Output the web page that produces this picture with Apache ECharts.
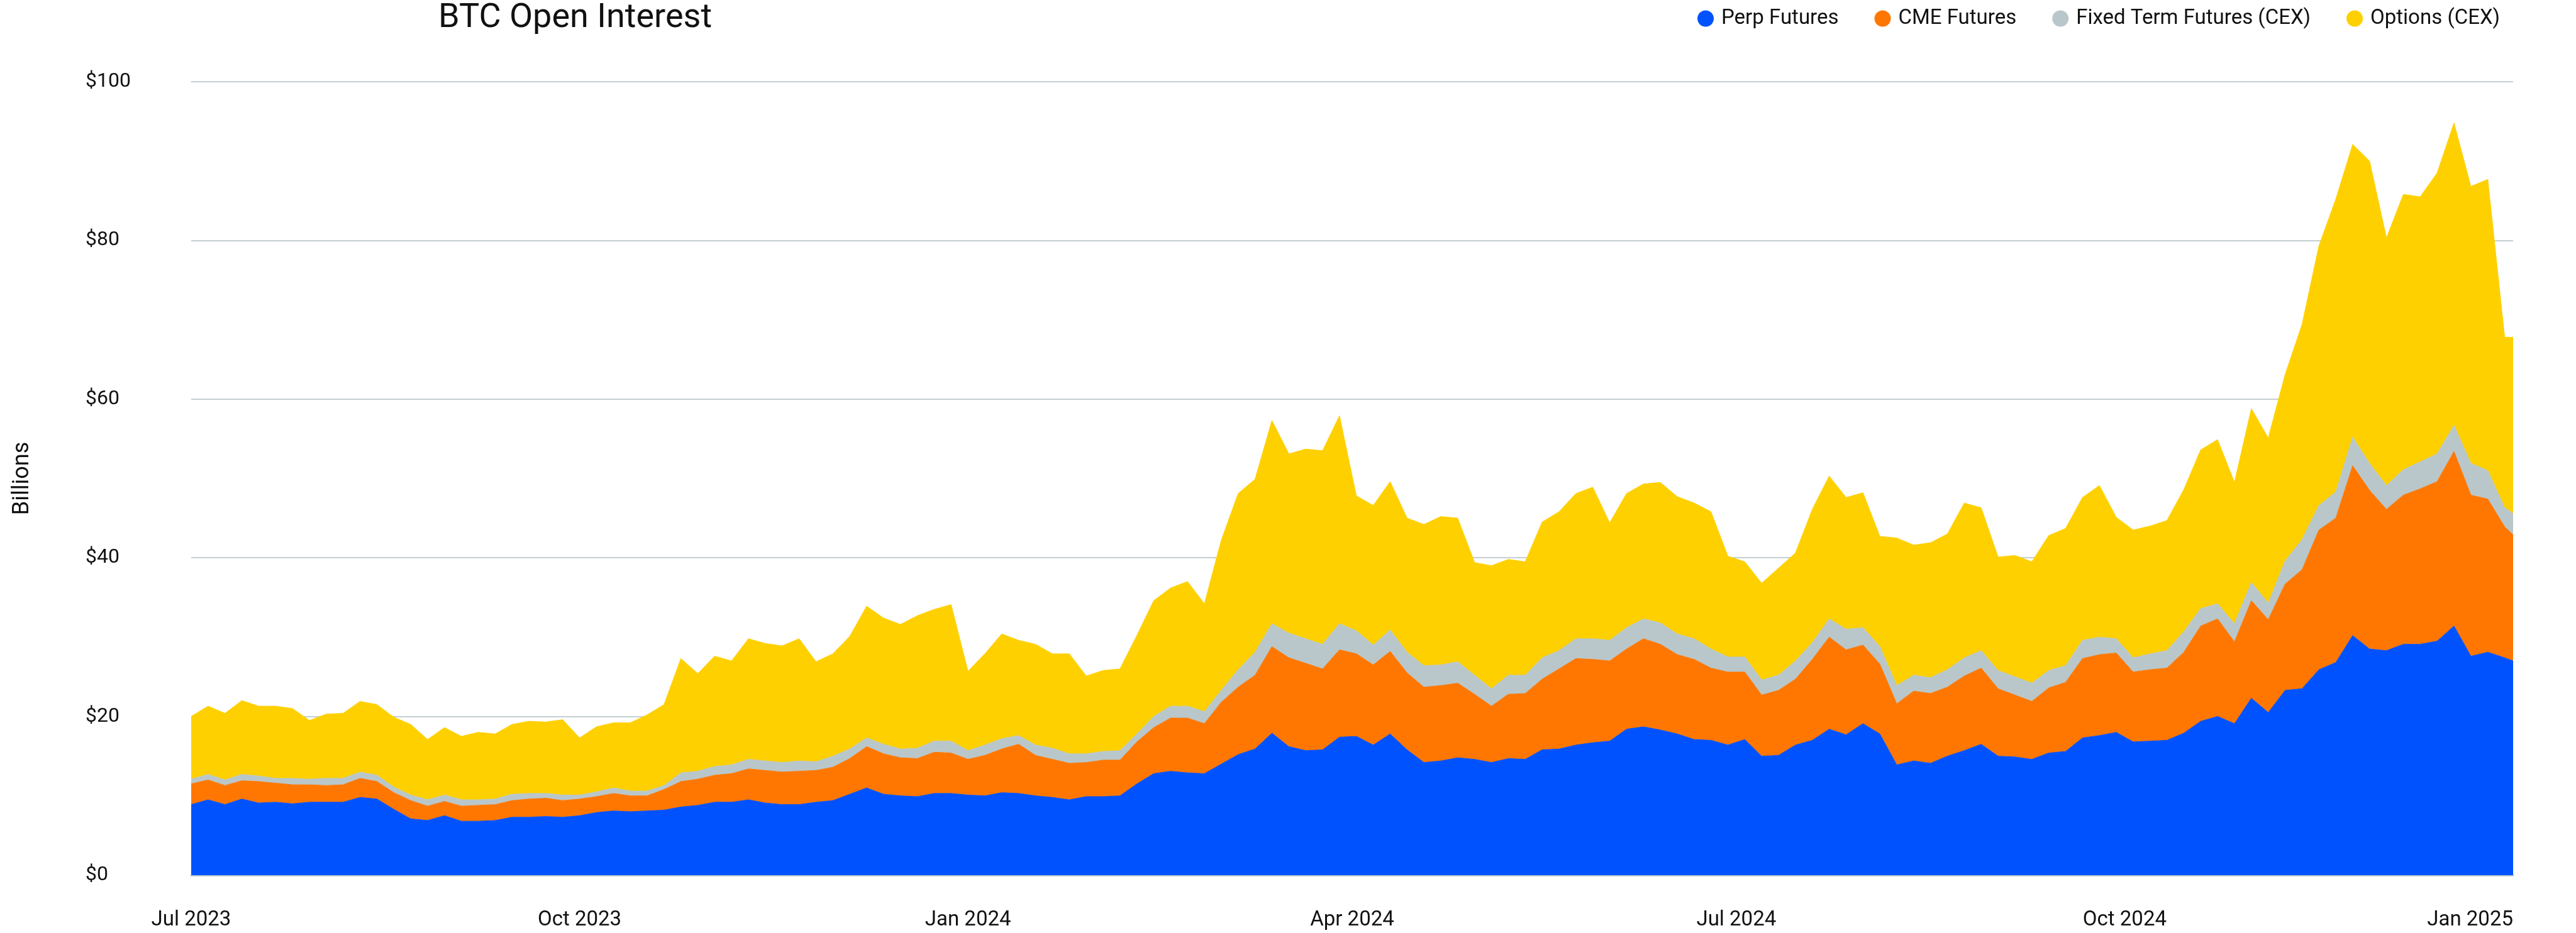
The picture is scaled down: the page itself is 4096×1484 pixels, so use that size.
<!DOCTYPE html>
<html>
<head>
<meta charset="utf-8">
<title>BTC Open Interest</title>
<script src="https://cdn.jsdelivr.net/npm/echarts@6.0.0/dist/echarts.min.js"></script>
<style>
  html, body { margin: 0; padding: 0; background: #ffffff; }
  #chart { width: 4096px; height: 1484px; }
</style>
</head>
<body>
<div id="chart"></div>
<script>
// sample dates (every 4 days, Jul 2023 - Jan 2025)
const dates = [
  '2023-07-01','2023-07-05','2023-07-09','2023-07-13','2023-07-17','2023-07-21','2023-07-25','2023-07-29',
  '2023-08-02','2023-08-06','2023-08-10','2023-08-14','2023-08-18','2023-08-22','2023-08-26','2023-08-30',
  '2023-09-03','2023-09-07','2023-09-11','2023-09-15','2023-09-19','2023-09-23','2023-09-27','2023-10-01',
  '2023-10-05','2023-10-09','2023-10-13','2023-10-17','2023-10-21','2023-10-25','2023-10-29',
  '2023-11-02','2023-11-06','2023-11-10','2023-11-14','2023-11-18','2023-11-22','2023-11-26','2023-11-30',
  '2023-12-04','2023-12-08','2023-12-12','2023-12-16','2023-12-20','2023-12-24','2023-12-28','2024-01-01',
  '2024-01-05','2024-01-09','2024-01-13','2024-01-17','2024-01-21','2024-01-25','2024-01-29',
  '2024-02-02','2024-02-06','2024-02-10','2024-02-14','2024-02-18','2024-02-22','2024-02-26',
  '2024-03-01','2024-03-05','2024-03-09','2024-03-13','2024-03-17','2024-03-21','2024-03-25','2024-03-29','2024-04-02',
  '2024-04-06','2024-04-10','2024-04-14','2024-04-18','2024-04-22','2024-04-26','2024-04-30',
  '2024-05-04','2024-05-08','2024-05-12','2024-05-16','2024-05-20','2024-05-24','2024-05-28',
  '2024-06-01','2024-06-05','2024-06-09','2024-06-13','2024-06-17','2024-06-21','2024-06-25','2024-06-29','2024-07-03',
  '2024-07-07','2024-07-11','2024-07-15','2024-07-19','2024-07-23','2024-07-27','2024-07-31',
  '2024-08-04','2024-08-08','2024-08-12','2024-08-16','2024-08-20','2024-08-24','2024-08-28',
  '2024-09-01','2024-09-05','2024-09-09','2024-09-13','2024-09-17','2024-09-21','2024-09-25','2024-09-29','2024-10-03',
  '2024-10-07','2024-10-11','2024-10-15','2024-10-19','2024-10-23','2024-10-27','2024-10-31',
  '2024-11-04','2024-11-08','2024-11-12','2024-11-16','2024-11-20','2024-11-24','2024-11-28',
  '2024-12-02','2024-12-06','2024-12-10','2024-12-14','2024-12-18','2024-12-22','2024-12-26','2024-12-30','2025-01-01'
];

// open interest, $ billions
const perpFutures = [
  8.9, 9.5, 8.9, 9.6, 9.1, 9.2, 9.0, 9.2, 9.2, 9.2, 9.8, 9.6, 8.3, 7.1, 6.9, 7.5, 6.8, 6.8, 6.9, 7.3, 7.3, 7.4, 7.3, 7.5,
  7.9, 8.1, 8.0, 8.1, 8.2, 8.6, 8.8, 9.2, 9.2, 9.5, 9.1, 8.9, 8.9, 9.2, 9.4, 10.2, 11.0, 10.2, 10.0, 9.9, 10.3, 10.3, 10.1,
  10.0, 10.4, 10.3, 10.0, 9.8, 9.5, 9.9, 9.9, 10.0, 11.5, 12.8, 13.1, 12.9, 12.8, 14.0, 15.2, 15.9, 17.9, 16.2, 15.7, 15.8, 17.4, 17.5,
  16.4, 17.8, 15.8, 14.2, 14.4, 14.8, 14.6, 14.2, 14.7, 14.6, 15.8, 15.9, 16.4, 16.7, 16.9, 18.4, 18.7, 18.3, 17.8, 17.1, 17.0, 16.4, 17.1,
  15.0, 15.1, 16.4, 17.0, 18.4, 17.7, 19.1, 17.8, 13.9, 14.4, 14.1, 15.0, 15.7, 16.5, 15.0, 14.9, 14.6, 15.4, 15.6, 17.3, 17.6, 18.0, 16.8,
  16.9, 17.0, 17.9, 19.4, 20.0, 19.1, 22.3, 20.5, 23.3, 23.5, 25.9, 26.8, 30.2, 28.5, 28.3, 29.1, 29.1, 29.5, 31.4, 27.6, 28.1, 27.4, 27.0
];
const cmeFutures = [
  2.6, 2.5, 2.4, 2.3, 2.7, 2.4, 2.4, 2.2, 2.1, 2.2, 2.4, 2.2, 2.1, 2.3, 1.8, 1.8, 1.9, 2.0, 2.0, 2.1, 2.3, 2.3, 2.1, 2.1,
  2.0, 2.2, 2.0, 1.9, 2.6, 3.2, 3.3, 3.4, 3.6, 3.9, 4.1, 4.1, 4.2, 4.0, 4.2, 4.5, 5.2, 5.1, 4.8, 4.8, 5.2, 5.1, 4.5,
  5.1, 5.5, 6.2, 5.1, 4.8, 4.6, 4.3, 4.6, 4.5, 5.3, 5.8, 6.7, 6.9, 6.3, 7.8, 8.5, 9.3, 10.9, 11.2, 11.0, 10.2, 11.0, 10.4,
  10.1, 10.4, 9.7, 9.5, 9.5, 9.4, 8.2, 7.1, 8.1, 8.3, 8.9, 10.1, 10.9, 10.5, 10.1, 10.1, 11.1, 10.8, 10.0, 10.1, 9.1, 9.2, 8.5,
  7.7, 8.2, 8.3, 10.2, 11.6, 10.7, 9.9, 8.8, 7.7, 8.8, 8.8, 8.7, 9.4, 9.6, 8.5, 7.8, 7.3, 8.2, 8.7, 10.0, 10.2, 10.0, 8.8,
  9.0, 9.1, 10.2, 12.0, 12.3, 10.3, 12.3, 11.7, 13.4, 15.0, 17.6, 18.2, 21.4, 20.0, 17.8, 18.8, 19.6, 20.1, 22.0, 20.3, 19.3, 16.5, 15.9
];
const fixedTermFutures = [
  0.6, 0.7, 0.7, 0.8, 0.7, 0.6, 0.8, 0.7, 0.9, 0.8, 0.8, 0.8, 0.7, 0.7, 0.8, 0.8, 0.8, 0.7, 0.7, 0.8, 0.7, 0.6, 0.7, 0.5,
  0.6, 0.7, 0.6, 0.6, 0.5, 1.1, 1.0, 1.1, 1.1, 1.2, 1.2, 1.2, 1.3, 1.1, 1.4, 1.2, 1.1, 1.2, 1.1, 1.3, 1.4, 1.5, 1.1,
  1.3, 1.3, 1.1, 1.3, 1.4, 1.2, 1.1, 1.1, 1.2, 1.0, 1.4, 1.5, 1.5, 1.5, 1.5, 2.2, 2.9, 2.9, 3.1, 3.1, 3.1, 3.3, 2.9,
  2.5, 2.7, 2.6, 2.7, 2.6, 2.7, 2.4, 2.2, 2.4, 2.3, 2.7, 2.3, 2.5, 2.6, 2.6, 2.7, 2.5, 2.7, 2.6, 2.6, 2.4, 1.9, 1.9,
  1.9, 1.9, 2.3, 2.1, 2.3, 2.6, 2.2, 2.2, 2.3, 2.0, 2.0, 2.2, 2.3, 2.2, 2.3, 2.3, 2.3, 2.2, 2.1, 2.3, 2.2, 1.8, 1.8,
  2.0, 2.2, 2.6, 2.2, 1.9, 2.3, 2.3, 2.1, 2.9, 3.8, 3.1, 3.3, 3.6, 3.4, 3.0, 3.2, 3.4, 3.5, 3.3, 4.0, 3.6, 2.4, 2.7
];
const optionsCex = [
  7.9, 8.6, 8.4, 9.3, 8.8, 9.1, 8.8, 7.4, 8.1, 8.2, 8.9, 8.9, 8.8, 8.9, 7.6, 8.5, 8.0, 8.5, 8.2, 8.8, 9.1, 9.0, 9.5, 7.2,
  8.2, 8.2, 8.6, 9.6, 10.2, 14.4, 12.3, 13.9, 13.1, 15.2, 14.8, 14.7, 15.4, 12.6, 12.9, 14.2, 16.6, 15.9, 15.7, 16.7, 16.6, 17.2, 10.0,
  11.5, 13.2, 12.0, 12.7, 11.9, 12.6, 9.8, 10.2, 10.3, 12.4, 14.6, 14.9, 15.7, 13.6, 18.9, 22.2, 21.8, 25.6, 22.6, 23.9, 24.4, 26.2, 17.0,
  17.6, 18.7, 16.9, 17.8, 18.7, 18.1, 14.2, 15.5, 14.6, 14.3, 17.1, 17.5, 18.3, 19.1, 14.8, 16.9, 17.0, 17.7, 17.3, 17.1, 17.3, 12.7, 12.0,
  12.2, 13.5, 13.6, 16.8, 18.0, 16.6, 17.0, 13.9, 18.6, 16.4, 17.0, 17.1, 19.5, 18.0, 14.3, 15.3, 15.3, 17.0, 17.3, 18.0, 19.1, 15.3, 16.1,
  16.1, 16.4, 17.9, 20.0, 20.7, 17.8, 21.9, 20.8, 23.5, 27.1, 32.7, 36.9, 36.9, 38.1, 31.2, 34.7, 33.4, 35.4, 38.1, 34.9, 36.7, 21.5, 22.2
];

const seriesNames = ['Perp Futures', 'CME Futures', 'Fixed Term Futures (CEX)', 'Options (CEX)'];
const seriesColors = ['#0052ff', '#ff7700', '#b9c7ca', '#ffd000'];
const monthNames = ['Jan', 'Feb', 'Mar', 'Apr', 'May', 'Jun', 'Jul', 'Aug', 'Sep', 'Oct', 'Nov', 'Dec'];

const textColor = '#111111';
const fontFamily = 'Roboto, "Noto Sans", sans-serif';

const chart = echarts.init(document.getElementById('chart'));

function makeSeries(name, values, color) {
  return {
    name: name,
    type: 'line',
    stack: 'oi',
    symbol: 'none',
    showSymbol: false,
    data: dates.map((d, i) => [d, values[i]]),
    lineStyle: { width: 1, color: color },
    itemStyle: { color: color },
    areaStyle: { color: color, opacity: 1 },
    emphasis: { disabled: true }
  };
}

chart.setOption({
  animation: false,
  textStyle: { fontFamily: fontFamily, color: textColor },
  title: {
    text: 'BTC Open Interest',
    left: 697,
    top: 2,
    padding: 0,
    textStyle: { fontSize: 54, fontWeight: 'normal', color: textColor, fontFamily: fontFamily }
  },
  legend: {
    data: seriesNames,
    left: 2699,
    top: 13,
    padding: 0,
    icon: 'circle',
    itemWidth: 26,
    itemHeight: 26,
    itemGap: 57,
    textStyle: { fontSize: 33, color: textColor, fontFamily: fontFamily, padding: [0, 0, 0, 7] }
  },
  grid: { left: 304, right: 100, top: 130, bottom: 92 },
  xAxis: {
    type: 'time',
    min: new Date(2023, 6, 1).getTime(),
    max: new Date(2025, 0, 1).getTime(),
    splitNumber: 6,
    axisLine: { lineStyle: { color: '#b9c8cb', width: 3 } },
    axisTick: { show: false },
    splitLine: { show: false },
    axisLabel: {
      fontSize: 33,
      color: textColor,
      margin: 55,
      showMinLabel: true,
      showMaxLabel: true,
      alignMaxLabel: 'right',
      formatter: function (value) {
        const d = new Date(value);
        if (d.getDate() !== 1 || d.getMonth() % 3 !== 0) return '';
        return monthNames[d.getMonth()] + ' ' + d.getFullYear();
      }
    }
  },
  yAxis: {
    type: 'value',
    min: 0,
    max: 100,
    interval: 20,
    name: 'Billions',
    nameLocation: 'middle',
    nameGap: 250,
    nameTextStyle: { fontSize: 36, color: textColor },
    axisLine: { show: false },
    axisTick: { show: false },
    axisLabel: {
      fontSize: 32,
      color: textColor,
      align: 'left',
      margin: 168,
      formatter: v => '$' + v
    },
    splitLine: { lineStyle: { color: '#c3cfd2', width: 2 } }
  },
  series: seriesNames.map((n, i) =>
    makeSeries(n, [perpFutures, cmeFutures, fixedTermFutures, optionsCex][i], seriesColors[i]))
});
</script>
</body>
</html>
